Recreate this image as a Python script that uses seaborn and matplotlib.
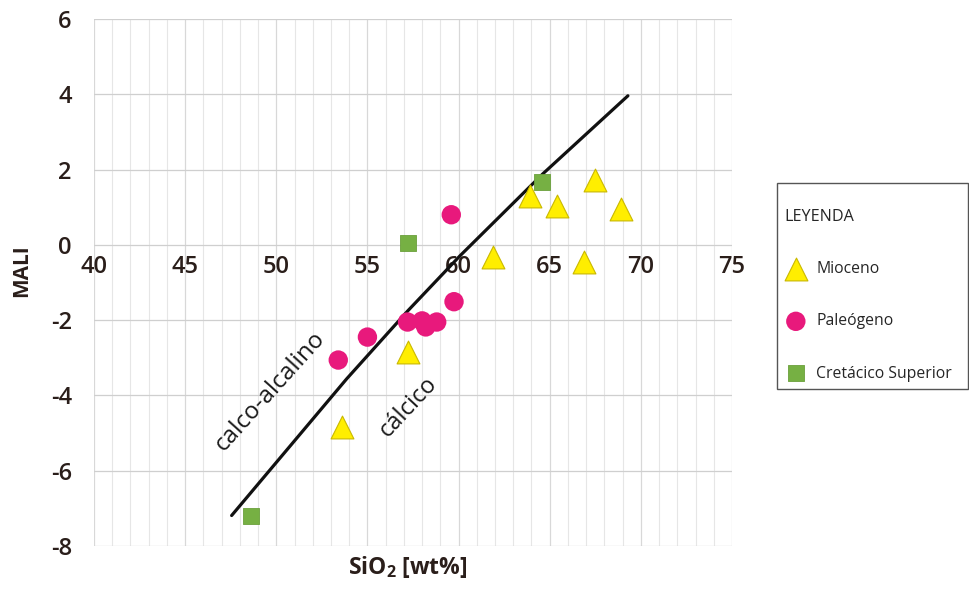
import matplotlib
matplotlib.use("Agg")
import matplotlib.pyplot as plt
from matplotlib.ticker import MultipleLocator
import pandas as pd
import seaborn as sns

# MALI (Na2O + K2O - CaO) vs SiO2 by age group
mioceno_sio2 = [63.9, 65.4, 67.5, 68.9, 61.9, 66.9, 57.2, 53.6]
mioceno_mali = [1.30, 1.04, 1.73, 0.96, -0.32, -0.45, -2.85, -4.84]

paleogeno_sio2 = [53.4, 55.0, 57.2, 58.0, 58.2, 58.8, 59.75, 59.6]
paleogeno_mali = [-3.06, -2.45, -2.05, -2.02, -2.18, -2.05, -1.51, 0.80]

cretacico_sio2 = [64.6, 57.2, 48.6]
cretacico_mali = [1.66, 0.05, -7.20]

# calc-alkalic / calcic boundary
boundary_sio2 = [47.55, 53.86, 57.22, 60.08, 64.63, 69.29]
boundary_mali = [-7.19, -3.56, -1.75, -0.29, 1.89, 3.96]

x_ticks = [40, 45, 50, 55, 60, 65, 70, 75]
y_ticks = [-8, -6, -4, -2, 0, 2, 4, 6]

sns.set_style("white")
plt.rcParams["font.family"] = ["Open Sans", "DejaVu Sans"]
plt.rcParams["axes.unicode_minus"] = False
plt.rcParams["mathtext.fontset"] = "custom"
plt.rcParams["mathtext.rm"] = "Open Sans"
plt.rcParams["mathtext.bf"] = "Open Sans:bold"

W, H = 969, 591
fig = plt.figure(figsize=(W / 100, H / 100), dpi=100)
ax = fig.add_axes([94 / W, 1 - 546 / H, (732 - 94) / W, (546 - 19) / H])

groups = [
    ("Mioceno", mioceno_sio2, mioceno_mali,
     dict(marker="^", s=270, color="#FFEE00", edgecolor="#C9B800", linewidth=0.8)),
    ("Paleógeno", paleogeno_sio2, paleogeno_mali,
     dict(marker="o", s=195, color="#E8197C", edgecolor="none", linewidth=0)),
    ("Cretácico Superior", cretacico_sio2, cretacico_mali,
     dict(marker="s", s=125, color="#76B043", edgecolor="#6AA03B", linewidth=0.6)),
]

boundary = pd.DataFrame({"SiO2": boundary_sio2, "MALI": boundary_mali})
sns.lineplot(data=boundary, x="SiO2", y="MALI", ax=ax, color="#111111",
             linewidth=2.3, sort=False, zorder=3, legend=False)

for name, xs, ys, style in groups:
    df = pd.DataFrame({"SiO2": xs, "MALI": ys})
    sns.scatterplot(data=df, x="SiO2", y="MALI", ax=ax, label=name,
                    zorder=4, legend=False, **style)

ax.set_xlim(40, 75)
ax.set_ylim(-8, 6)
ax.set_xticks(x_ticks)
ax.xaxis.set_minor_locator(MultipleLocator(1))
ax.set_yticks(y_ticks)

ax.grid(True, which="major", axis="x", color="#d8d8d8", linewidth=0.9)
ax.grid(True, which="minor", axis="x", color="#e6e6e6", linewidth=0.8)
ax.grid(True, which="major", axis="y", color="#cfcfcf", linewidth=0.9)
ax.set_axisbelow(True)

for sp in ax.spines.values():
    sp.set_visible(False)
# x tick labels sit along the MALI = 0 line
ax.spines["bottom"].set_position(("data", 0))

tick_color = "#2a1e1a"
ax.tick_params(axis="x", which="both", length=0, pad=7, labelsize=17,
               labelcolor=tick_color)
ax.tick_params(axis="y", length=0, pad=16, labelsize=17, labelcolor=tick_color)
for lab in ax.get_xticklabels() + ax.get_yticklabels():
    lab.set_fontweight("semibold")

ax.set_xlabel("")
ax.set_ylabel("")
fig.text(22 / W, 1 - 271 / H, "MALI", rotation=90, ha="center", va="center",
         fontsize=15, fontweight="bold", color=tick_color)
fig.text(408 / W, 1 - 567 / H, r"SiO$_{\mathbf{2}}$ [wt%]", ha="center",
         va="center", fontsize=16.5, fontweight="bold", color=tick_color)

ax.text(49.65, -3.9, "calco-alcalino", rotation=48, rotation_mode="anchor",
        ha="center", va="center", fontsize=17.5, color="#1a1a1a")
ax.text(57.22, -4.3, "cálcico", rotation=47, rotation_mode="anchor",
        ha="center", va="center", fontsize=17, color="#1a1a1a")

handles, labels = ax.get_legend_handles_labels()
leg = fig.legend(handles, labels, loc="upper left",
                 bbox_to_anchor=(777 / W, 1 - 387 / H, 191 / W, 204 / H),
                 mode="expand", title="\nLEYENDA", alignment="left",
                 frameon=True, fancybox=False, edgecolor="#555555",
                 framealpha=1, labelspacing=2.3, borderpad=0.5,
                 handletextpad=0.6, handlelength=1.4, fontsize=11.3,
                 title_fontsize=11.6, borderaxespad=0)
leg.get_frame().set_linewidth(1.0)

fig.savefig("out.png", dpi=100)
